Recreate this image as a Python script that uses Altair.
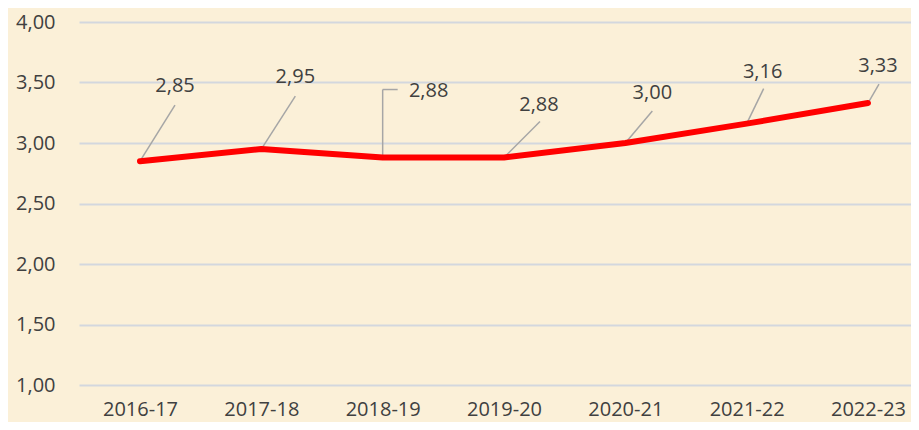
import altair as alt
import pandas as pd

# ---- data ----
years = ["2016-17", "2017-18", "2018-19", "2019-20", "2020-21", "2021-22", "2022-23"]
values = [2.85, 2.95, 2.88, 2.88, 3.00, 3.16, 3.33]
y_ticks = [1.0, 1.5, 2.0, 2.5, 3.0, 3.5, 4.0]

# ---- label placement styles (pixel offsets relative to each point) ----
label_dx = [35, 34, 46, 35, 27, 16, 10]
label_dy = [-75, -72, -67, -53, -50, -52, -37]
# leader segments: (x1off, y1off, x2off, y2off)
leaders = [
    [(0, 0, 35, -56)],
    [(0, 0, 34, -53)],
    [(0, 0, 0, -68), (0, -68, 15, -68)],
    [(0, 0, 36, -36)],
    [(0, 0, 27, -32)],
    [(0, 0, 17, -35)],
    [(0, 0, 11, -19)],
]

df = pd.DataFrame({"year": years, "value": values})
df["label"] = [f"{v:.2f}".replace(".", ",") for v in values]

FONT = "Open Sans"
TXT = "#404040"

x_enc = alt.X(
    "year:N",
    sort=years,
    scale=alt.Scale(type="point", padding=0.4286, align=0.5865),
    axis=alt.Axis(title=None, labelAngle=0, ticks=False, domain=False, grid=False,
                  labelPadding=14, labelFont=FONT, labelFontSize=20, labelColor=TXT),
)
y_enc = alt.Y(
    "value:Q",
    scale=alt.Scale(domain=[1, 4], nice=False, zero=False),
    axis=alt.Axis(title=None, values=y_ticks, format=".2f",
                  labelExpr="replace(datum.label, '.', ',')",
                  ticks=False, domain=False, labelPadding=24,
                  labelFont=FONT, labelFontSize=20, labelColor=TXT,
                  grid=True, gridColor="#D3D7DE", gridWidth=1.8),
)

base = alt.Chart(df).encode(x=x_enc, y=y_enc)

layers = []
for i, yr in enumerate(years):
    for (x1o, y1o, x2o, y2o) in leaders[i]:
        layers.append(
            base.transform_filter(alt.datum.year == yr)
            .mark_rule(color="#A6A6A6", strokeWidth=1.5,
                       xOffset=x1o, yOffset=y1o, x2Offset=x2o, y2Offset=y2o)
            .encode(x2=alt.X2("year"), y2=alt.Y2("value"))
        )

line = base.mark_line(color="#FF0000", strokeWidth=6, strokeCap="round", strokeJoin="round")
layers.append(line)

for i, yr in enumerate(years):
    layers.append(
        base.transform_filter(alt.datum.year == yr)
        .mark_text(dx=label_dx[i], dy=label_dy[i], font=FONT, fontSize=20, color=TXT,
                   align="center", baseline="middle")
        .encode(text="label:N")
    )

chart = alt.layer(*layers).properties(
    width=832,
    height=363,
    autosize=alt.AutoSizeParams(type="none"),
    padding={"left": 71, "top": 14, "right": 0, "bottom": 37},
    background="#FBF0D8",
).configure_view(stroke=None)

chart.save("out.html", embed_options={"renderer": "svg", "actions": False})
